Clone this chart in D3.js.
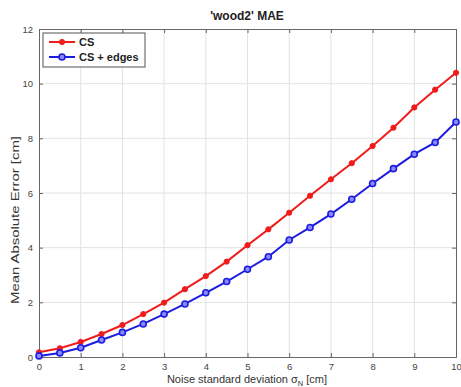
<!DOCTYPE html>
<html><head><meta charset="utf-8">
<script src="https://cdn.jsdelivr.net/npm/d3@7"></script>
<style>body{margin:0;background:#fff;}svg{display:block;font-family:Arial,"Liberation Sans",sans-serif;}</style>
</head><body><svg id="c" width="461" height="387"></svg>
<script>
const xValues = [0,0.5,1,1.5,2,2.5,3,3.5,4,4.5,5,5.5,6,6.5,7,7.5,8,8.5,9,9.5,10];
const csValues = [0.17,0.32,0.55,0.84,1.17,1.57,1.99,2.48,2.96,3.49,4.09,4.67,5.28,5.90,6.50,7.09,7.72,8.39,9.13,9.78,10.4];
const csEdgesValues = [0.04,0.15,0.34,0.62,0.90,1.21,1.57,1.94,2.35,2.76,3.21,3.67,4.28,4.74,5.23,5.77,6.35,6.89,7.42,7.85,8.6];
const xTicks = [0,1,2,3,4,5,6,7,8,9,10];
const yTicks = [0,2,4,6,8,10,12];
const seriesNames = ["CS","CS + edges"];
const title = "'wood2' MAE";

const svg = d3.select("#c");
const L=39,R=456,T=29,B=357;
const x = d3.scaleLinear().domain([0,10]).range([L,R]);
const y = d3.scaleLinear().domain([0,12]).range([B,T]);

// grid
svg.append("g").selectAll("line").data(xTicks.slice(1,-1)).join("line")
  .attr("x1",d=>x(d)).attr("x2",d=>x(d)).attr("y1",T).attr("y2",B)
  .attr("stroke","#e2e2e2").attr("stroke-width",1);
svg.append("g").selectAll("line").data(yTicks.slice(1,-1)).join("line")
  .attr("y1",d=>y(d)).attr("y2",d=>y(d)).attr("x1",L).attr("x2",R)
  .attr("stroke","#e2e2e2").attr("stroke-width",1);

// axes
const axB = svg.append("g").attr("transform",`translate(0,${B})`).call(d3.axisBottom(x).tickValues(xTicks).tickSize(-4).tickPadding(6).tickFormat(d3.format("d")));
const axT = svg.append("g").attr("transform",`translate(0,${T})`).call(d3.axisTop(x).tickValues(xTicks).tickSize(-4).tickFormat(""));
const axL = svg.append("g").attr("transform",`translate(${L},0)`).call(d3.axisLeft(y).tickValues(yTicks).tickSize(-4).tickPadding(6).tickFormat(d3.format("d")));
const axR = svg.append("g").attr("transform",`translate(${R},0)`).call(d3.axisRight(y).tickValues(yTicks).tickSize(-4).tickFormat(""));
[axB,axT,axL,axR].forEach(a=>{
  a.selectAll("path,line").attr("stroke","#666");
  a.selectAll("text").attr("fill","#444").attr("font-size","9.5px").attr("font-family","Arial,'Liberation Sans',sans-serif");
});

// lines
const line = d3.line().x((d,i)=>x(xValues[i])).y(d=>y(d));
const colors = ["#f01c1c","#1c1ce0"];
svg.append("path").datum(csValues).attr("d",line).attr("fill","none").attr("stroke",colors[0]).attr("stroke-width",2);
svg.append("path").datum(csEdgesValues).attr("d",line).attr("fill","none").attr("stroke",colors[1]).attr("stroke-width",2);
svg.append("g").selectAll("circle").data(csValues).join("circle")
  .attr("cx",(d,i)=>x(xValues[i])).attr("cy",d=>y(d)).attr("r",2.6).attr("fill",colors[0]).attr("stroke",colors[0]).attr("stroke-width",1);
svg.append("g").selectAll("circle").data(csEdgesValues).join("circle")
  .attr("cx",(d,i)=>x(xValues[i])).attr("cy",d=>y(d)).attr("r",3).attr("fill","#8a8aff").attr("stroke",colors[1]).attr("stroke-width",1.6);

// title
svg.append("text").attr("x",247).attr("y",20).attr("text-anchor","middle").attr("font-size","12px").attr("font-weight","bold").attr("fill","#222").text(title);
// x label
const xl = svg.append("text").attr("x",247).attr("y",383).attr("text-anchor","middle").attr("font-size","11px").attr("fill","#333");
xl.append("tspan").text("Noise standard deviation σ");
xl.append("tspan").attr("font-size","7.5px").attr("dy",3).text("N");
xl.append("tspan").attr("dy",-3).text(" [cm]");
// y label
svg.append("text").attr("transform",`translate(19,220) rotate(-90)`).attr("text-anchor","middle").attr("font-size","11px").attr("fill","#333")
  .attr("textLength",168).attr("lengthAdjust","spacingAndGlyphs").text("Mean Absolute Error [cm]");

// legend
const lg = svg.append("g");
lg.append("rect").attr("x",43).attr("y",33).attr("width",102).attr("height",34).attr("fill","#fff").attr("stroke","#555").attr("stroke-width",1);
seriesNames.forEach((n,i)=>{
  const yy = 42 + i*15;
  lg.append("line").attr("x1",49).attr("x2",75).attr("y1",yy).attr("y2",yy).attr("stroke",colors[i]).attr("stroke-width",2);
  lg.append("circle").attr("cx",62).attr("cy",yy).attr("r",i?3:2.6).attr("fill",i?"#8a8aff":colors[0]).attr("stroke",colors[i]).attr("stroke-width",i?1.6:1);
  lg.append("text").attr("x",79).attr("y",yy+4).attr("font-size","11px").attr("font-weight","bold").attr("fill","#222").text(n);
});
</script></body></html>
